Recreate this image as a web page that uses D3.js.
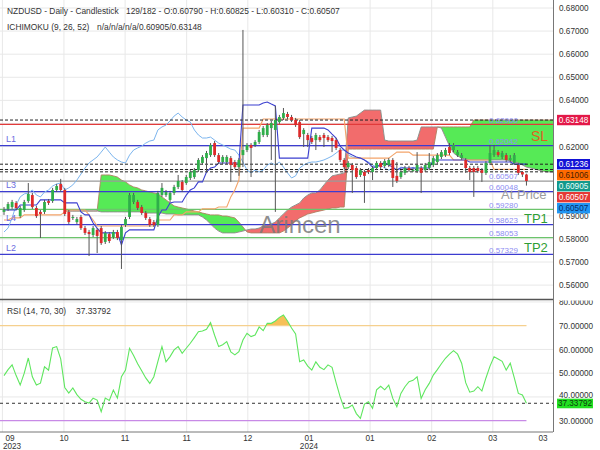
<!DOCTYPE html>
<html><head><meta charset="utf-8">
<script src="https://cdn.jsdelivr.net/npm/d3@7"></script>
<style>body{margin:0;background:#fff;}svg{display:block;font-family:"Liberation Sans",Arial,sans-serif;}</style>
</head><body><svg id="c" width="600" height="450"></svg>
<script>
// ---------- DATA ----------
const opens=[0.5917,0.5930,0.5938,0.5956,0.5899,0.5925,0.5964,0.5990,0.5934,0.5917,
0.5917,0.5964,0.5964,0.6012,0.6038,0.6012,0.5917,0.5891,0.5873,0.5895,
0.5847,0.5830,0.5817,0.5839,0.5847,0.5787,0.5821,0.5808,0.5830,0.5795,
0.5860,0.5895,0.5960,0.5960,0.5938,0.5912,0.5886,0.5873,0.5860,0.5990,
0.5990,0.5969,0.5999,0.6025,0.6047,0.6042,0.6064,0.6068,0.6098,0.6129,
0.6150,0.6163,0.6215,0.6163,0.6133,0.6133,0.6150,0.6133,0.6111,0.6163,
0.6185,0.6207,0.6207,0.6220,0.6250,0.6250,0.6280,0.6272,0.6306,0.6324,
0.6341,0.6328,0.6315,0.6306,0.6254,0.6250,0.6237,0.6228,0.6241,0.6250,
0.6241,0.6237,0.6228,0.6185,0.6142,0.6111,0.6120,0.6107,0.6077,0.6090,
0.6098,0.6090,0.6107,0.6129,0.6116,0.6120,0.6142,0.6073,0.6068,0.6086,
0.6107,0.6098,0.6094,0.6107,0.6098,0.6107,0.6120,0.6133,0.6155,0.6163,
0.6198,0.6185,0.6163,0.6150,0.6142,0.6107,0.6107,0.6107,0.6098,0.6086,
0.6129,0.6163,0.6176,0.6155,0.6163,0.6142,0.6129,0.6120,0.6090,0.6079];
const highs=[0.5938,0.5960,0.5969,0.5964,0.5943,0.5969,0.6042,0.5999,0.5943,0.5925,
0.5969,0.5973,0.6021,0.6038,0.6060,0.6021,0.5925,0.5904,0.5895,0.5904,
0.5856,0.5839,0.5856,0.5847,0.5856,0.5834,0.5830,0.5839,0.5839,0.5860,
0.5895,0.5999,0.5999,0.5969,0.5947,0.5921,0.5895,0.5882,0.6008,0.6042,
0.6012,0.6008,0.6034,0.6077,0.6055,0.6077,0.6098,0.6107,0.6150,0.6163,
0.6181,0.6215,0.6224,0.6172,0.6163,0.6163,0.6159,0.6142,0.6150,0.6705,
0.6215,0.6215,0.6228,0.6272,0.6289,0.6302,0.6311,0.6376,0.6337,0.6367,
0.6350,0.6337,0.6324,0.6315,0.6280,0.6259,0.6246,0.6259,0.6250,0.6259,
0.6250,0.6246,0.6237,0.6194,0.6150,0.6137,0.6129,0.6116,0.6107,0.6098,
0.6107,0.6116,0.6137,0.6137,0.6146,0.6150,0.6150,0.6133,0.6098,0.6116,
0.6116,0.6107,0.6176,0.6116,0.6129,0.6172,0.6159,0.6172,0.6185,0.6194,
0.6215,0.6215,0.6185,0.6172,0.6150,0.6116,0.6116,0.6116,0.6107,0.6137,
0.6207,0.6207,0.6185,0.6181,0.6172,0.6163,0.6172,0.6129,0.6094,0.60825];
const lows=[0.5904,0.5921,0.5930,0.5925,0.5891,0.5917,0.5956,0.5930,0.5891,0.5804,
0.5908,0.5947,0.5956,0.6003,0.6003,0.5899,0.5865,0.5882,0.5865,0.5839,
0.5817,0.5726,0.5808,0.5739,0.5774,0.5778,0.5782,0.5800,0.5795,0.5670,
0.5852,0.5886,0.5951,0.5925,0.5904,0.5882,0.5852,0.5852,0.5852,0.5982,
0.5982,0.5960,0.5990,0.6016,0.6003,0.6034,0.6055,0.6060,0.6090,0.6120,
0.6090,0.6155,0.6155,0.6124,0.6124,0.6124,0.6047,0.6103,0.6073,0.6111,
0.6176,0.6068,0.6198,0.6211,0.6241,0.6241,0.6142,0.5917,0.6298,0.6315,
0.6319,0.6306,0.6285,0.6233,0.6198,0.6198,0.6211,0.6185,0.6220,0.6198,
0.6220,0.6176,0.6185,0.6133,0.6103,0.6103,0.5999,0.6060,0.6068,0.5956,
0.6081,0.6055,0.6098,0.6103,0.6107,0.6111,0.6025,0.6042,0.6060,0.6077,
0.6090,0.6090,0.6086,0.5999,0.6090,0.6098,0.6111,0.6124,0.6146,0.6155,
0.6163,0.6176,0.6155,0.6142,0.6086,0.6055,0.5982,0.6086,0.6047,0.6077,
0.6120,0.6155,0.6155,0.6146,0.6133,0.6133,0.6120,0.6077,0.6068,0.6031];
const closes=[0.5925,0.5951,0.5960,0.5934,0.5934,0.5960,0.5995,0.5938,0.5899,0.5908,
0.5960,0.5956,0.6012,0.6029,0.6012,0.5908,0.5873,0.5895,0.5886,0.5847,
0.5826,0.5821,0.5847,0.5813,0.5782,0.5826,0.5791,0.5830,0.5804,0.5852,
0.5886,0.5990,0.5990,0.5934,0.5912,0.5891,0.5860,0.5860,0.5999,0.6021,
0.6003,0.5999,0.6025,0.6051,0.6012,0.6068,0.6090,0.6098,0.6142,0.6155,
0.6172,0.6207,0.6163,0.6133,0.6155,0.6155,0.6120,0.6111,0.6142,0.6185,
0.6207,0.6194,0.6220,0.6263,0.6280,0.6293,0.6302,0.6315,0.6328,0.6345,
0.6328,0.6315,0.6293,0.6241,0.6272,0.6228,0.6220,0.6250,0.6228,0.6237,
0.6228,0.6224,0.6194,0.6142,0.6111,0.6129,0.6098,0.6068,0.6098,0.6073,
0.6090,0.6107,0.6129,0.6111,0.6137,0.6142,0.6064,0.6051,0.6090,0.6107,
0.6098,0.6098,0.6120,0.6086,0.6120,0.6133,0.6150,0.6163,0.6176,0.6185,
0.6172,0.6207,0.6176,0.6163,0.6107,0.6090,0.6090,0.6094,0.6086,0.6129,
0.6172,0.6185,0.6163,0.6172,0.6142,0.6150,0.6163,0.6086,0.6079,0.60507];

const tenkan=[0.5925,0.5925,0.5925,0.5925,0.5947,0.5947,0.5947,0.5947,0.5947,0.5969,
0.5969,0.5969,0.5969,0.5969,0.5969,0.5956,0.5956,0.5956,0.5956,0.5917,
0.5904,0.5904,0.5869,0.5847,0.5826,0.5826,0.5826,0.5826,0.5826,0.5774,
0.5826,0.5839,0.5839,0.5839,0.5839,0.5839,0.5839,0.5839,0.5895,0.5925,
0.5925,0.5956,0.5960,0.5960,0.5960,0.5990,0.6012,0.6021,0.6047,0.6047,
0.6090,0.6107,0.6111,0.6129,0.6129,0.6129,0.6129,0.6129,0.6129,0.6380,
0.6380,0.6380,0.6380,0.6380,0.6389,0.6393,0.6384,0.6376,0.6150,0.6150,
0.6150,0.6150,0.6150,0.6150,0.6150,0.6150,0.6280,0.6280,0.6280,0.6280,
0.6272,0.6254,0.6237,0.6202,0.6185,0.6172,0.6163,0.6155,0.6150,0.6142,
0.6129,0.6111,0.6111,0.6124,0.6129,0.6120,0.6111,0.6098,0.6107,0.6107,
0.6107,0.6107,0.6107,0.6107,0.6107,0.6107,0.6142,0.6142,0.6142,0.6142,
0.6142,0.6142,0.6142,0.6142,0.6142,0.6133,0.6133,0.6133,0.6133,0.6133,
0.6133,0.6133,0.6133,0.6133,0.6133,0.6133,0.6124,0.6124,0.6124,0.6124];
const kijun=[0.5882,0.5882,0.5891,0.5891,0.5891,0.5904,0.5904,0.5904,0.5904,0.5904,
0.5904,0.5904,0.5904,0.5904,0.5904,0.5917,0.5925,0.5925,0.5925,0.5925,
0.5925,0.5904,0.5882,0.5856,0.5856,0.5856,0.5856,0.5856,0.5856,0.5856,
0.5856,0.5856,0.5856,0.5856,0.5856,0.5856,0.5856,0.5856,0.5882,0.5882,
0.5882,0.5882,0.5904,0.5904,0.5904,0.5917,0.5917,0.5917,0.5917,0.5930,
0.5930,0.5930,0.5930,0.5938,0.5938,0.5938,0.5982,0.6012,0.6055,0.6280,
0.6280,0.6280,0.6280,0.6280,0.6319,0.6319,0.6319,0.6319,0.6319,0.6319,
0.6319,0.6319,0.6319,0.6319,0.6319,0.6319,0.6319,0.6319,0.6319,0.6319,
0.6319,0.6319,0.6319,0.6319,0.6319,0.6150,0.6150,0.6150,0.6150,0.6150,
0.6150,0.6150,0.6150,0.6150,0.6150,0.6150,0.6163,0.6176,0.6176,0.6176,
0.6176,0.6163,0.6163,0.6163,0.6163,0.6163,0.6163,0.6163,0.6163,0.6163,
0.6163,0.6142,0.6142,0.6142,0.6142,0.6142,0.6142,0.6142,0.6142,0.6142,
0.6142,0.6101,0.6101,0.6101,0.6101,0.6101,0.6101,0.6101,0.6101,0.6101];
const chikou=[0.5830,0.5847,0.5891,0.5947,0.5982,0.5995,0.5999,0.6012,0.5990,0.5982,
0.6003,0.6012,0.6029,0.6038,0.6042,0.6012,0.6021,0.6034,0.6055,0.6081,
0.6107,0.6129,0.6142,0.6155,0.6176,0.6198,0.6176,0.6155,0.6142,0.6133,
0.6129,0.6163,0.6185,0.6194,0.6202,0.6215,0.6224,0.6228,0.6272,0.6285,
0.6293,0.6311,0.6332,0.6345,0.6328,0.6315,0.6306,0.6272,0.6250,0.6237,
0.6237,0.6241,0.6228,0.6215,0.6207,0.6198,0.6189,0.6185,0.6163,0.6133,
0.6098,0.6086,0.6098,0.6090,0.6098,0.6120,0.6129,0.6120,0.6133,0.6111,
0.6086,0.6064,0.6073,0.6107,0.6120,0.6129,0.6133,0.6133,0.6137,0.6142,
0.6150,0.6159,0.6172,0.6185,0.6185,0.6163,0.6155,0.6150,0.6150,0.6142,
0.6133,0.6120,0.6111,0.6120,0.6107,0.6098,0.6107,0.6098,0.6111,0.6107,
0.6098,0.6111,0.6098,0.6090];
const spanA=[null,null,null,null,null,null,null,null,null,null,null,null,null,null,null,
0.5921,0.5921,0.5921,0.5921,0.5921,0.5921,0.5921,0.5921,0.5921,
0.5917,0.5917,0.5917,0.5917,0.5917,0.5917,0.5917,0.5917,0.5917,0.5917,0.5917,
0.5912,0.5912,0.5912,0.5912,0.5912,0.5908,0.5908,0.5908,
0.5904,0.5904,0.5904,0.5904,0.5904,0.5904,
0.5895,0.5882,0.5865,0.5847,0.5834,0.5826,0.5826,0.5826,0.5826,0.5830,0.5834,0.5839,0.5843,0.5843,
0.5847,0.5856,0.5860,0.5865,0.5873,0.5891,0.5908,0.5925,0.5938,0.5947,0.5956,0.5977,0.5990,0.5999,0.5999,
0.6012,0.6034,0.6055,0.6073,0.6077,0.6081,0.6086,
0.6324,0.6328,0.6332,0.6345,0.6358,0.6358,0.6358,0.6358,0.6358,
0.6228,0.6224,0.6224,0.6224,0.6224,0.6224,0.6224,0.6224,0.6228,
0.6285,0.6285,0.6285,0.6285,0.6285,0.6280,0.6241,0.6202,0.6172,0.6159,0.6150,0.6146,
0.6142,0.6142,0.6142,0.6142,0.6142,0.6142,0.6142,0.6142,0.6142,0.6142,
0.6137,0.6133,0.6129,0.6120,0.6111,0.6107,0.6103,0.6098,0.6094,0.6090,0.6090,0.6090];
const spanB=[null,null,null,null,null,null,null,null,null,null,null,null,null,null,null,
0.5921,0.5921,0.5921,0.5921,0.5921,0.5921,0.5921,0.5921,0.5921,
0.6077,0.6077,0.6077,0.6073,0.6068,0.6055,0.6047,0.6034,0.6025,0.6021,0.6012,
0.6008,0.6003,0.5999,0.5995,0.5982,0.5969,0.5956,0.5943,0.5938,0.5934,0.5930,0.5925,0.5921,0.5917,
0.5912,0.5908,0.5904,0.5904,0.5904,0.5899,0.5899,0.5895,0.5891,0.5873,0.5852,0.5830,
0.5826,0.5826,0.5826,0.5826,0.5826,0.5826,0.5826,0.5826,
0.5834,0.5847,0.5860,0.5878,0.5891,0.5899,0.5908,0.5912,0.5917,0.5921,0.5925,0.5930,0.5934,0.5934,0.5938,0.5938,
0.6189,0.6189,0.6189,0.6189,0.6189,0.6189,0.6189,0.6189,0.6189,0.6189,0.6189,
0.6189,0.6189,0.6189,0.6189,0.6189,0.6189,0.6189,0.6189,0.6189,0.6189,0.6189,
0.6285,0.6285,0.6285,0.6285,0.6285,0.6285,0.6285,0.6285,0.6285,
0.6315,0.6315,0.6315,0.6315,0.6315,0.6315,0.6315,0.6315,0.6315,0.6315,0.6315,
0.6315,0.6315,0.6315,0.6315,0.6315,0.6315,0.6315,0.6315,0.6315,0.6315];
const rsi=[49,51.5,53.5,49,45,50,56.4,48.5,45,45.8,
52.7,51.3,60.6,61.2,56,44,41.6,43.8,41,39,
38,37.4,39.5,38.7,33.8,39.5,38.5,42.9,39.5,48.5,
51.3,60.5,57.5,54,51,48,45.7,48.5,55,61.2,
54.8,57,59.8,61.2,58.4,60.5,62.6,65,67.5,67.8,
68.5,71.3,66,61.2,62,63.3,59,57.7,59.1,64,
66.8,65.4,66.1,69.5,67.9,71,71,72,73.5,74.5,
72,69,66.5,54.8,55.6,53,51.3,54.8,52.5,51.5,
53.5,52.5,46,40,35.2,35.5,36.6,33,31,37,
38,35.2,43,44.5,43,45,39.4,35.9,41.5,44.3,
46.4,47,48.5,39.4,43,45.7,49.2,51.5,54,56.3,
58,59.5,58,54.2,46,42,42.5,44.3,42.5,48,
53,56.9,56,55,51.3,54.2,48,41.5,40.8,37.33792];

const xTickIdx=[-0.4,14.8,29.9,45.1,60.2,75.3,90.4,105.6,120.7,135.8];
const xTickLabels=["09","10","11","11","12","01","01","02","03","03"];
const xYearLabels=["2023","","","","","2024","","","",""];
const priceGrid=[0.56,0.57,0.58,0.59,0.60,0.61,0.62,0.63,0.64,0.65,0.66,0.67,0.68];
const priceTickLabels=[0.56,0.57,0.58,0.59,0.62,0.64,0.65,0.66,0.67,0.68];
const rsiTicks=[30,40,50,60,70,80];
const rsiLevels=[70,30];
const rsiLast=37.33792;

const levelPrices=[0.62960,0.62042,0.60507,0.60048,0.59280,0.58623,0.58053,0.57329];
const levelKinds=["red","blue","gray","blue","green","blue","green","blue"];
const levelTags=["","L1","","L3","","L4","","L2"];
const dashedPrices=[0.63148,0.61236,0.61006,0.60905];
const boxPrices=[0.63148,0.61236,0.61006,0.60905,0.60507,0.60507];
const boxKinds=["spanB","tenkan","kijun","spanA","close","price"];
const sideTexts=[{t:"SL",p:0.62960,k:"sl"},{t:"TP1",p:0.58623,k:"tp"},{t:"TP2",p:0.57329,k:"tp"},{t:"At Price",p:0.60048,k:"at"}];

// ---------- LAYOUT ----------
const svg=d3.select("#c");
const PR=553, MB=299, RT=300, RB=432;
const n=closes.length;
const x=d3.scaleLinear().domain([0,n-1]).range([4,526.45]);
const y=d3.scaleLinear().domain([0.55,0.68]).range([308.2,8]);
const yR=d3.scaleLinear().domain([30,70]).range([420.7,325.7]);
const defs=svg.append("defs");
defs.append("clipPath").attr("id","cm").append("rect").attr("x",0).attr("y",0).attr("width",PR).attr("height",MB);
defs.append("clipPath").attr("id","cr").append("rect").attr("x",0).attr("y",RT).attr("width",PR).attr("height",RB-RT);
defs.append("clipPath").attr("id","cra").append("rect").attr("x",PR).attr("y",RT+0.5).attr("width",60).attr("height",RB-RT);
defs.append("clipPath").attr("id","cma").append("rect").attr("x",PR).attr("y",0).attr("width",60).attr("height",MB);

const levelColor={red:"#e23a3a",blue:"#3c3cd0",gray:"#9a9a9a",green:"#6cc46c"};

// grid
const grid=svg.append("g");
grid.selectAll(".hg").data(priceGrid).join("line").attr("x1",0).attr("x2",PR)
  .attr("y1",d=>y(d)).attr("y2",d=>y(d)).attr("stroke","#e8e8e8");
grid.selectAll(".rg").data(rsiTicks.filter(v=>rsiLevels.indexOf(v)<0)).join("line").attr("x1",0).attr("x2",PR)
  .attr("y1",d=>yR(d)).attr("y2",d=>yR(d)).attr("stroke","#e8e8e8");
grid.selectAll(".vg").data(xTickIdx.filter(t=>x(t)>=0&&x(t)<=PR)).join("line")
  .attr("x1",d=>x(d)).attr("x2",d=>x(d)).attr("y1",0).attr("y2",RB).attr("stroke","#e8e8e8");

// main panel
const main=svg.append("g").attr("clip-path","url(#cm)");
const cIdx=d3.range(spanA.length);
const def=i=>spanA[i]!=null&&spanB[i]!=null;
defs.append("clipPath").attr("id","aboveA").append("path")
  .attr("d",d3.area().defined(def).x(i=>x(i)).y0(-20).y1(i=>y(spanA[i]))(cIdx));
defs.append("clipPath").attr("id","belowA").append("path")
  .attr("d",d3.area().defined(def).x(i=>x(i)).y0(340).y1(i=>y(spanA[i]))(cIdx));
const cloud=d3.area().defined(def).x(i=>x(i)).y0(i=>y(spanA[i])).y1(i=>y(spanB[i]));
main.append("path").attr("d",cloud(cIdx)).attr("fill","#56ea56").attr("clip-path","url(#aboveA)");
main.append("path").attr("d",cloud(cIdx)).attr("fill","#f26c6c").attr("clip-path","url(#belowA)");
main.append("path").attr("d",d3.line().defined(def).x(i=>x(i)).y(i=>y(spanB[i]))(cIdx))
  .attr("fill","none").attr("stroke","#b08060").attr("stroke-width",0.9);
main.append("path").attr("d",d3.line().defined(def).x(i=>x(i)).y(i=>y(spanA[i]))(cIdx))
  .attr("fill","none").attr("stroke","#8a8a8a").attr("stroke-width",0.9);

// level lines
main.selectAll(".lv").data(levelPrices).join("line").attr("x1",0).attr("x2",PR)
  .attr("y1",d=>y(d)).attr("y2",d=>y(d)).attr("stroke",(d,i)=>levelColor[levelKinds[i]]).attr("stroke-width",1.2);

// ichimoku lines
const idx=d3.range(n);
const ln=arr=>d3.line().x(i=>x(i)).y(i=>y(arr[i]));
main.append("path").attr("d",ln(chikou)(d3.range(chikou.length))).attr("fill","none").attr("stroke","#7cb5ee").attr("stroke-width",1);
main.append("path").attr("d",ln(kijun)(idx)).attr("fill","none").attr("stroke","#f3a46a").attr("stroke-width",1.1);
main.append("path").attr("d",ln(tenkan)(idx)).attr("fill","none").attr("stroke","#3b3fcf").attr("stroke-width",1.1);

// dashed lines
main.selectAll(".dl").data(dashedPrices).join("line").attr("x1",0).attr("x2",PR)
  .attr("y1",d=>y(d)).attr("y2",d=>y(d)).attr("stroke","#222").attr("stroke-dasharray","3,2").attr("stroke-width",1);

// candles
main.selectAll(".wk").data(idx).join("line").attr("x1",i=>x(i)).attr("x2",i=>x(i))
  .attr("y1",i=>y(highs[i])).attr("y2",i=>y(lows[i])).attr("stroke","#555").attr("stroke-width",1);
main.selectAll(".bd").data(idx).join("rect").attr("x",i=>x(i)-1.4).attr("width",2.8)
  .attr("y",i=>y(Math.max(opens[i],closes[i])))
  .attr("height",i=>Math.max(1,Math.abs(y(opens[i])-y(closes[i]))))
  .attr("fill",i=>closes[i]>=opens[i]?"#2fae4a":"#dd2a2a");

// level value labels & tags
main.selectAll(".lvt").data(levelPrices).join("text").attr("x",489).attr("y",d=>y(d)-1.8)
  .attr("font-size",8).attr("fill","#8d8df2").text(d=>d3.format(".5f")(d));
main.selectAll(".tag").data(levelPrices.filter((d,i)=>levelTags[i])).join("text")
  .attr("x",6).attr("y",d=>y(d)-3.5).attr("font-size",9).attr("fill","#6b6be0")
  .text(d=>levelTags[levelPrices.indexOf(d)]);
const sideStyle={sl:{c:"#e2601e",dx:531,dy:17,fs:14},tp:{c:"#2f9e35",dx:524,dy:-2,fs:13},at:{c:"#9c9c9c",dx:501,dy:7.5,fs:13}};
main.selectAll(".st").data(sideTexts).join("text")
  .attr("x",d=>sideStyle[d.k].dx)
  .attr("y",d=>y(d.p)+sideStyle[d.k].dy)
  .attr("font-size",d=>sideStyle[d.k].fs).attr("fill",d=>sideStyle[d.k].c).text(d=>d.t);
main.append("text").attr("x",300).attr("y",233).attr("text-anchor","middle").attr("font-size",24)
  .attr("fill","#7a7a7a").attr("fill-opacity",0.85).text("Arincen");

// RSI panel
const rp=svg.append("g").attr("clip-path","url(#cr)");
defs.append("clipPath").attr("id","ob").append("rect").attr("x",0).attr("y",RT).attr("width",PR).attr("height",yR(70)-RT);
rp.append("path").attr("d",d3.area().x(i=>x(i)).y0(yR(70)).y1(i=>yR(rsi[i]))(idx))
  .attr("fill","#f6c058").attr("clip-path","url(#ob)");
rp.append("line").attr("x1",0).attr("x2",x(n-1)).attr("y1",yR(70)).attr("y2",yR(70)).attr("stroke","#f5d08e").attr("stroke-width",1.2);
rp.append("line").attr("x1",0).attr("x2",x(n-1)).attr("y1",yR(30)).attr("y2",yR(30)).attr("stroke","#c88ae6").attr("stroke-width",1.2);
rp.append("line").attr("x1",0).attr("x2",PR).attr("y1",yR(rsiLast)).attr("y2",yR(rsiLast))
  .attr("stroke","#333").attr("stroke-dasharray","3,3");
rp.append("path").attr("d",d3.line().x(i=>x(i)).y(i=>yR(rsi[i]))(idx)).attr("fill","none")
  .attr("stroke","#5fe65f").attr("stroke-width",1.1);

// frame lines
svg.append("line").attr("x1",PR+0.5).attr("x2",PR+0.5).attr("y1",0).attr("y2",RB).attr("stroke","#777");
svg.append("line").attr("x1",0).attr("x2",PR).attr("y1",RT-0.5).attr("y2",RT-0.5).attr("stroke","#555").attr("stroke-width",1.6);
svg.append("line").attr("x1",0).attr("x2",PR).attr("y1",RB).attr("y2",RB).attr("stroke","#777");

// axes
const fmt=d3.format(".5f");
const ax=svg.append("g").attr("clip-path","url(#cma)").append("g").attr("transform",`translate(${PR},0)`)
  .call(d3.axisRight(y).tickValues(priceTickLabels).tickFormat(fmt).tickSize(0).tickPadding(6));
const axr=svg.append("g").attr("clip-path","url(#cra)").append("g").attr("transform",`translate(${PR},0)`)
  .call(d3.axisRight(yR).tickValues(rsiTicks).tickFormat(fmt).tickSize(0).tickPadding(6));
[ax,axr].forEach(a=>{a.select(".domain").remove();a.selectAll("text").attr("font-size",8.2).attr("fill","#333")
  .attr("font-family","Liberation Sans, Arial, sans-serif");});
axr.selectAll(".tick").filter(d=>d===40).select("text").attr("dy","0.1em");

// x labels
const xl=svg.append("g");
xl.selectAll(".xm").data(xTickIdx).join("text").attr("x",d=>Math.min(Math.max(x(d),10),543)).attr("y",441)
  .attr("text-anchor","middle").attr("font-size",8.2).attr("fill","#333").text((d,i)=>xTickLabels[i]);
xl.selectAll(".xy").data(xTickIdx).join("text").attr("x",d=>Math.max(x(d),12)).attr("y",449)
  .attr("text-anchor","middle").attr("font-size",8.2).attr("fill","#333").text((d,i)=>xYearLabels[i]);

// price boxes
const boxFill={spanB:"#e31848",tenkan:"#1212d6",kijun:"#ff6a00",spanA:"#13998b",close:"#e53935",price:"#2196f3"};
const boxText={spanB:"#fff",tenkan:"#fff",kijun:"#4a2000",spanA:"#e8fffb",close:"#fff",price:"#0a2a66"};
let prev=-1e9; const boxY=boxPrices.map(p=>{const v=Math.max(y(p),prev+11);prev=v;return v;});
const bx=svg.append("g");
boxPrices.forEach((p,i)=>{
  bx.append("rect").attr("x",557).attr("y",boxY[i]-5.2).attr("width",33).attr("height",10.4).attr("fill",boxFill[boxKinds[i]]);
  bx.append("text").attr("x",573.5).attr("y",boxY[i]+3).attr("text-anchor","middle").attr("font-size",8.2)
    .attr("fill",boxText[boxKinds[i]]).text(fmt(p));
});
bx.append("rect").attr("x",557).attr("y",yR(rsiLast)-4.6).attr("width",36).attr("height",9.6).attr("fill","#22e022");
bx.append("text").attr("x",575).attr("y",yR(rsiLast)+3).attr("text-anchor","middle").attr("font-size",8.2)
  .attr("fill","#0b3a0b").text(fmt(rsiLast));

// header texts
const hd=svg.append("g").attr("font-size",8.4).attr("fill","#333");
hd.append("text").attr("x",7).attr("y",13.5).text("NZDUSD - Daily - Candlestick");
hd.append("text").attr("x",126).attr("y",13.5).text("129/182 - O:0.60790 - H:0.60825 - L:0.60310 - C:0.60507");
hd.append("text").attr("x",7).attr("y",29.5).text("ICHIMOKU (9, 26, 52)");
hd.append("text").attr("x",97).attr("y",29.5).text("n/a/n/a/n/a/0.60905/0.63148");
hd.append("text").attr("x",7).attr("y",314).text("RSI (14, 70, 30)");
hd.append("text").attr("x",76).attr("y",314).text("37.33792");
</script></body></html>
